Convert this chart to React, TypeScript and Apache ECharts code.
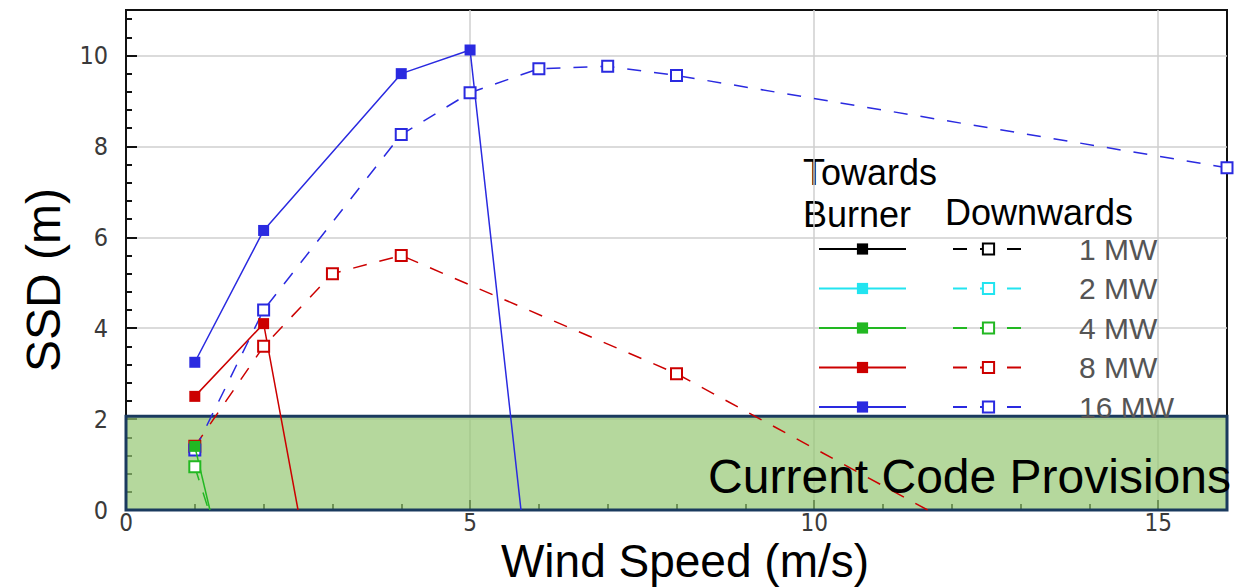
import React, { useEffect, useRef } from "react";
import * as echarts from "echarts";

type Pt = [number, number];

const X_MIN = 0;
const X_MAX = 16;
const Y_MIN = 0;
const Y_MAX = 11;
const CODE_LIMIT = 2.06;

const POWERS = ["1 MW", "2 MW", "4 MW", "8 MW", "16 MW"];
const COLORS = ["#000000", "#22e4f0", "#22b822", "#cc0000", "#2a2ae0"];

// Towards Burner (solid, filled squares)
const towards1MW: Pt[] = [];
const towards2MW: Pt[] = [];
const towards4MW: Pt[] = [[1, 1.4], [1.22, 0]];
const towards8MW: Pt[] = [[1, 2.5], [2, 4.1], [2.5, 0]];
const towards16MW: Pt[] = [[1, 3.25], [2, 6.15], [4, 9.6], [5, 10.12], [5.74, 0]];

// Downwards (dashed, open squares)
const downwards1MW: Pt[] = [];
const downwards2MW: Pt[] = [];
const downwards4MW: Pt[] = [[1, 0.95], [1.2, 0]];
const downwards8MW: Pt[] = [[1, 1.4], [2, 3.6], [3, 5.2], [4, 5.6], [8, 3.0], [11.65, 0]];
const downwards16MW: Pt[] = [[1, 1.32], [2, 4.4], [4, 8.26], [5, 9.18], [6, 9.71], [7, 9.76], [8, 9.56], [16, 7.53]];

const TOWARDS = [towards1MW, towards2MW, towards4MW, towards8MW, towards16MW];
const DOWNWARDS = [downwards1MW, downwards2MW, downwards4MW, downwards8MW, downwards16MW];

const X_TITLE = "Wind Speed (m/s)";
const Y_TITLE = "SSD (m)";
const BAND_LABEL = "Current Code Provisions";

const FONT = "'Liberation Sans', Arial, sans-serif";
const NARROW = "'Liberation Sans Narrow', 'DejaVu Sans Condensed', 'Arial Narrow', 'Liberation Sans', sans-serif";

function toData(pts: Pt[]) {
  return pts.map(([x, y]) => (y === 0 ? { value: [x, y], symbol: "none" } : [x, y]));
}

export default function App() {
  const ref = useRef<HTMLDivElement>(null);
  useEffect(() => {
    if (!ref.current) return;
    const chart = echarts.init(ref.current, null, { renderer: "svg" });

    const towardsNames = POWERS.map((p) => "Towards Burner " + p);
    const downNames = POWERS.map((p) => "Downwards " + p);

    const series: any[] = [
      {
        name: "band",
        type: "line",
        data: [],
        z: 1,
        silent: true,
        markArea: {
          silent: true,
          itemStyle: {
            color: "rgba(150,200,115,0.7)",
            borderColor: "#1a3a5e",
            borderWidth: 3,
          },
          data: [[{ xAxis: X_MIN, yAxis: Y_MIN }, { xAxis: X_MAX, yAxis: CODE_LIMIT }]],
        },
      },
    ];
    POWERS.forEach((p, i) => {
      series.push({
        name: towardsNames[i],
        type: "line",
        data: toData(TOWARDS[i]),
        symbol: "rect",
        symbolSize: 11,
        z: i === 2 ? 4 : 3,
        lineStyle: { color: COLORS[i], width: 1.5, type: "solid" },
        itemStyle: { color: COLORS[i] },
      });
      series.push({
        name: downNames[i],
        type: "line",
        data: toData(DOWNWARDS[i]),
        symbol: "emptyRect",
        symbolSize: 11,
        z: i === 2 ? 4 : 3,
        lineStyle: { color: COLORS[i], width: 1.5, type: [14, 13] },
        itemStyle: { color: COLORS[i] },
      });
    });

    const tickStyle = { color: "#111", width: 2 };
    const splitStyle = { color: "#cfcfcf", width: 1.5 };
    const axisLine = { show: true, onZero: false, lineStyle: { color: "#111", width: 2 } };

    chart.setOption({
      animation: false,
      backgroundColor: "#ffffff",
      grid: {
        left: 126,
        top: 10,
        right: 26,
        bottom: 78,
        show: true,
        borderColor: "#111",
        borderWidth: 2,
        backgroundColor: "transparent",
      },
      xAxis: [
        {
          type: "value",
          min: X_MIN,
          max: X_MAX,
          interval: 5,
          axisLine,
          axisTick: { show: true, inside: true, length: 10, lineStyle: tickStyle },
          axisLabel: {
            formatter: (v: number) => (v > 15 ? "" : String(v)),
            fontFamily: NARROW,
            fontSize: 24,
            color: "#3a3a3a",
            margin: 1,
          },
          splitLine: { show: true, showMinLine: false, showMaxLine: false, lineStyle: splitStyle },
        },
        {
          type: "value",
          min: X_MIN,
          max: X_MAX,
          interval: 1,
          position: "bottom",
          axisLine,
          axisTick: { show: true, inside: true, length: 6, lineStyle: tickStyle },
          axisLabel: { show: false },
          splitLine: { show: false },
        },
      ],
      yAxis: [
        {
          type: "value",
          min: Y_MIN,
          max: Y_MAX,
          interval: 2,
          axisLine,
          axisTick: { show: true, inside: true, length: 11, lineStyle: tickStyle },
          axisLabel: {
            formatter: (v: number) => (v > 10 ? "" : String(v)),
            fontFamily: NARROW,
            fontSize: 25,
            color: "#3a3a3a",
            margin: 18,
          },
          splitLine: { show: true, showMinLine: false, showMaxLine: false, lineStyle: splitStyle },
        },
        {
          type: "value",
          min: Y_MIN,
          max: Y_MAX,
          interval: 0.4,
          position: "left",
          axisLine,
          axisTick: { show: true, inside: true, length: 6, lineStyle: tickStyle },
          axisLabel: { show: false },
          splitLine: { show: false },
        },
      ],
      legend: [
        {
          data: towardsNames,
          orient: "vertical",
          left: 818,
          top: 234,
          padding: 0,
          itemWidth: 87,
          itemHeight: 14,
          itemGap: 9.5,
          selectedMode: false,
          formatter: () => " ",
          textStyle: { fontSize: 30, lineHeight: 30, fontFamily: FONT },
        },
        {
          data: downNames,
          orient: "vertical",
          left: 952,
          top: 234,
          padding: 0,
          itemWidth: 71,
          itemHeight: 14,
          itemGap: 9.5,
          selectedMode: false,
          formatter: (name: string) => name.replace("Downwards ", ""),
          textStyle: {
            fontSize: 30,
            lineHeight: 30,
            fontFamily: FONT,
            color: "#555",
            padding: [0, 0, 0, 50],
          },
        },
      ],
      graphic: [
        {
          type: "text",
          x: 1231,
          y: 476,
          z: 10,
          style: {
            text: BAND_LABEL,
            font: `48px ${FONT}`,
            fill: "#000",
            textAlign: "right",
            textVerticalAlign: "middle",
          },
        },
        {
          type: "text",
          x: 685,
          y: 561,
          style: {
            text: X_TITLE,
            font: `46px ${FONT}`,
            fill: "#000",
            textAlign: "center",
            textVerticalAlign: "middle",
          },
        },
        {
          type: "text",
          x: 43,
          y: 280,
          rotation: Math.PI / 2,
          style: {
            text: Y_TITLE,
            font: `48px ${FONT}`,
            fill: "#000",
            textAlign: "center",
            textVerticalAlign: "middle",
          },
        },
        {
          type: "text",
          x: 803,
          y: 172,
          style: { text: "Towards", font: `36px ${FONT}`, fill: "#000", textAlign: "left", textVerticalAlign: "middle" },
        },
        {
          type: "text",
          x: 803,
          y: 214,
          style: { text: "Burner", font: `36px ${FONT}`, fill: "#000", textAlign: "left", textVerticalAlign: "middle" },
        },
        {
          type: "text",
          x: 945,
          y: 212,
          style: { text: "Downwards", font: `36px ${FONT}`, fill: "#000", textAlign: "left", textVerticalAlign: "middle" },
        },
      ],
      series,
    });

    return () => chart.dispose();
  }, []);

  return (
    <div
      ref={ref}
      style={{ position: "fixed", left: 0, top: 0, width: 1253, height: 588, background: "#fff" }}
    />
  );
}
